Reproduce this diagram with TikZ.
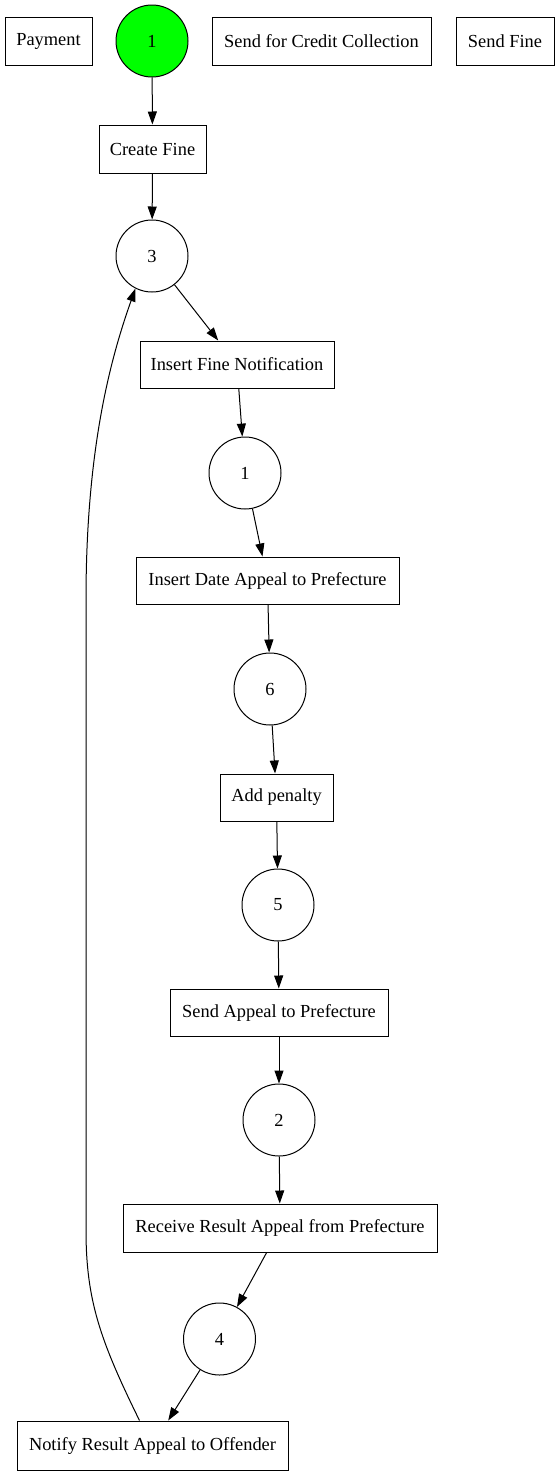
\documentclass[tikz,border=0pt]{standalone}
\usepackage{fontspec}
\setmainfont{Liberation Serif}
\usetikzlibrary{arrows.meta}
\begin{document}
\begin{tikzpicture}[x=1pt,y=-1pt,
  every node/.style={font=\fontsize{18.4}{21}\selectfont},
  trans/.style={draw,line width=1pt,rectangle,minimum height=48pt,inner sep=0pt},
  place/.style={draw,line width=1pt,circle,minimum size=72pt,inner sep=0pt},
  arc/.style={line width=1pt,-{Triangle[length=13pt,width=9pt]}}]
\useasboundingbox (0,0) rectangle (559,1475);
\node[trans,minimum width=87pt] (pay) at (48.5,41) {Payment};
\node[place,fill={rgb,255:red,0;green,255;blue,0}] (p0) at (152,41) {1};
\node[trans,minimum width=219pt] (sfcc) at (321.5,41) {Send for Credit Collection};
\node[trans,minimum width=98pt] (sf) at (505,41) {Send Fine};
\node[trans,minimum width=107pt] (cf) at (152.5,149) {Create Fine};
\node[place] (p3) at (152,256) {3};
\node[trans,minimum width=194pt,minimum height=47pt] (ifn) at (237,364.5) {Insert Fine Notification};
\node[place] (p1) at (245,473) {1};
\node[trans,minimum width=263pt,minimum height=47pt] (idap) at (267.5,580.5) {Insert Date Appeal to Prefecture};
\node[place] (p6) at (270,689) {6};
\node[trans,minimum width=113pt,minimum height=47pt] (ap) at (276.5,797.5) {Add penalty};
\node[place] (p5) at (278,905) {5};
\node[trans,minimum width=218pt,minimum height=47pt] (sap) at (279,1012.5) {Send Appeal to Prefecture};
\node[place] (p2) at (279,1120) {2};
\node[trans,minimum width=314pt] (rrap) at (280,1228) {Receive Result Appeal from Prefecture};
\node[place] (p4) at (219.5,1339) {4};
\node[trans,minimum width=271pt,minimum height=49pt] (nrao) at (152.5,1445.5) {Notify Result Appeal to Offender};
\draw[arc] (p0) -- (cf);
\draw[arc] (cf) -- (p3);
\draw[arc] (p3) -- (ifn);
\draw[arc] (ifn) -- (p1);
\draw[arc] (p1) -- (idap);
\draw[arc] (idap) -- (p6);
\draw[arc] (p6) -- (ap);
\draw[arc] (ap) -- (p5);
\draw[arc] (p5) -- (sap);
\draw[arc] (sap) -- (p2);
\draw[arc] (p2) -- (rrap);
\draw[arc] (rrap) -- (p4);
\draw[arc] (p4) -- (nrao);
\draw[arc] ([xshift=-13pt]nrao.north) .. controls (100,1340) and (86,1300) .. (86,1230) -- (86,600) .. controls (86,450) and (110,360) .. (p3.243);
\end{tikzpicture}
\end{document}
